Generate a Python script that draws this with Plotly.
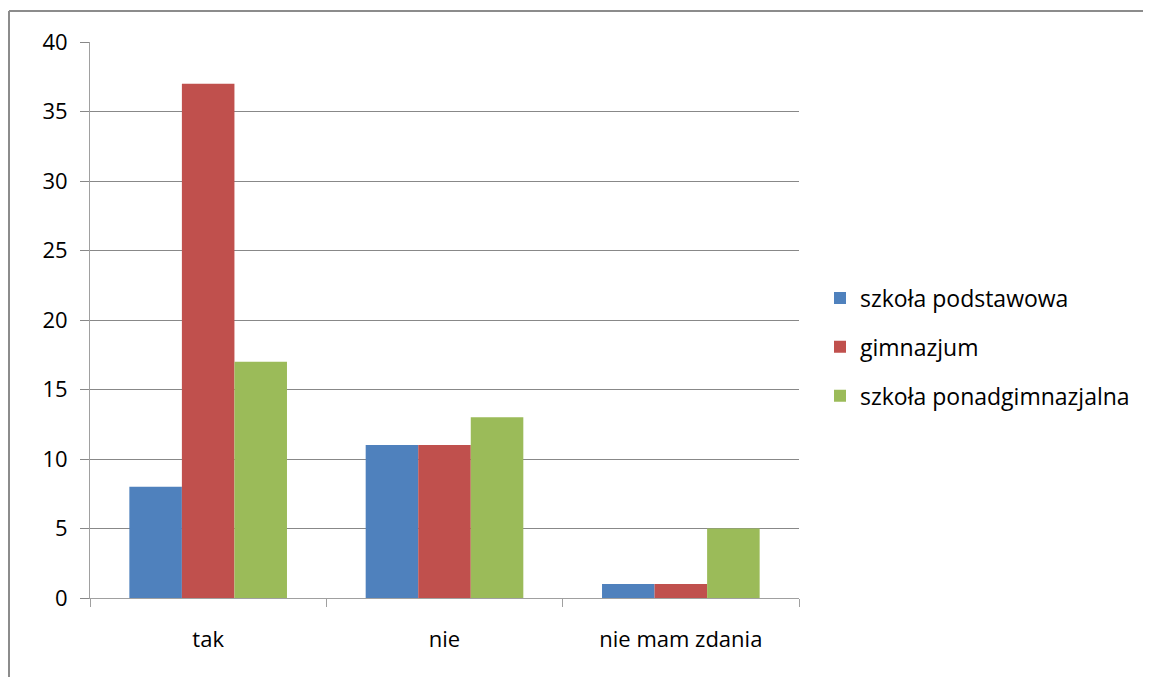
import plotly.graph_objects as go

categories = ["tak", "nie", "nie mam zdania"]
series_names = ["szkoła podstawowa", "gimnazjum", "szkoła ponadgimnazjalna"]
podstawowa = [8, 11, 1]
gimnazjum = [37, 11, 1]
ponadgimnazjalna = [17, 13, 5]
colors = ["#4F81BD", "#C0504D", "#9BBB59"]
y_ticks = [0, 5, 10, 15, 20, 25, 30, 35, 40]

# the page body adds an 8px margin, so the figure is sized and placed to compensate
W, H = 1143, 669
L, R, T, B = 82, 352, 34, 79
pw, ph = W - L - R, H - T - B

fig = go.Figure()
for i, (name, vals) in enumerate(zip(series_names, [podstawowa, gimnazjum, ponadgimnazjalna])):
    fig.add_trace(go.Bar(x=categories, y=vals, name=name, marker_color=colors[i],
                         marker_line_width=0, legendgroup=f"g{i}"))

font = dict(family="Open Sans, Calibri, sans-serif", size=22, color="#000000")
legend_font = dict(family="Open Sans, Calibri, sans-serif", size=23, color="#000000")

fig.update_layout(
    width=W, height=H,
    margin=dict(l=L, r=R, t=T, b=B, autoexpand=False),
    paper_bgcolor="white", plot_bgcolor="white",
    barmode="group", bargap=0.333, bargroupgap=0,
    font=font,
    showlegend=True,
    legend=dict(x=(812 - L) / pw, xanchor="left", y=0.5 - 27 / ph, yanchor="middle",
                font=legend_font, tracegroupgap=16, itemwidth=30, bgcolor="rgba(0,0,0,0)"),
    xaxis=dict(showgrid=False, showline=True, linecolor="#A0A0A0", linewidth=1,
               ticks="outside", tickson="boundaries", ticklen=8, tickcolor="#A0A0A0",
               tickfont=font, ticklabelstandoff=22, fixedrange=True),
    yaxis=dict(range=[0, 40], tickvals=y_ticks, showgrid=True, gridcolor="#888888",
               gridwidth=1, showline=True, linecolor="#A0A0A0", linewidth=1,
               ticks="outside", ticklen=9, tickcolor="#888888", tickfont=font,
               ticklabelstandoff=8, zeroline=False),
)

# chart frame (left and top borders)
x_left = (1 - L) / pw
y_top = 1 + (T - 3) / ph
fig.add_shape(type="line", xref="paper", yref="paper", x0=x_left, x1=x_left,
              y0=y_top, y1=-0.3, line=dict(color="#8C8C8C", width=2))
fig.add_shape(type="line", xref="paper", yref="paper", x0=x_left, x1=(W + 5 - L) / pw,
              y0=y_top, y1=y_top, line=dict(color="#8C8C8C", width=2))

fig.write_html("out.html")
